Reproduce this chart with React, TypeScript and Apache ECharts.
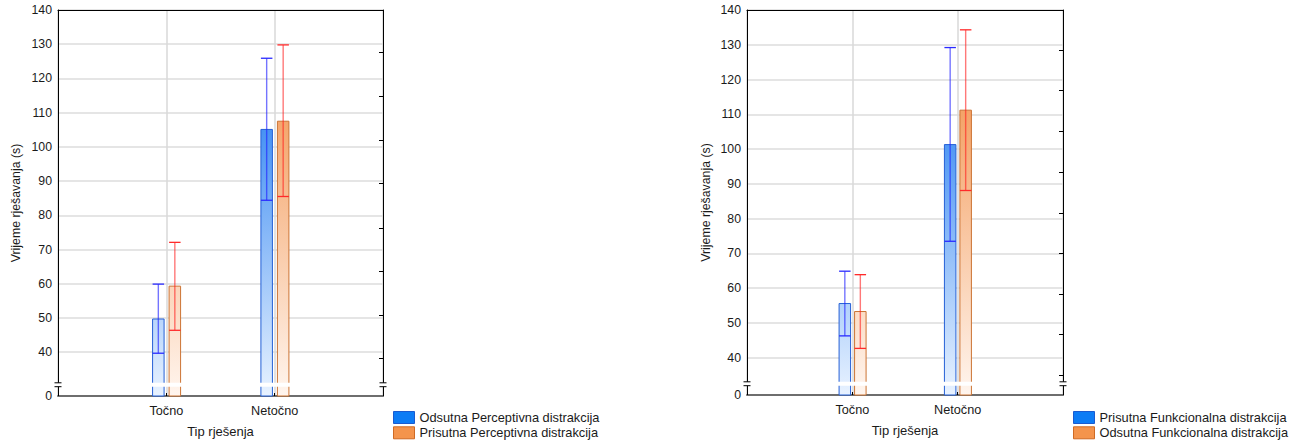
import React, { useEffect, useRef } from 'react';
import * as echarts from 'echarts';

const FONT = '"Liberation Sans", Arial, sans-serif';

const categories = ['', 'Točno', 'Netočno', ''];
const yTickValues = [40, 50, 60, 70, 80, 90, 100, 110, 120, 130, 140];
const xAxisTitle = 'Tip rješenja';
const yAxisTitle = 'Vrijeme rješavanja (s)';

// Left panel (Perceptivna distrakcija)
const leftNames = ['Odsutna Perceptivna distrakcija', 'Prisutna Perceptivna distrakcija'];
const leftMeanA = [49.7, 105.1];
const leftLowA = [39.7, 84.4];
const leftHighA = [59.9, 125.9];
const leftMeanB = [59.3, 107.5];
const leftLowB = [46.4, 85.5];
const leftHighB = [72.1, 129.8];
const leftAxisBottom = 27.2; // value sitting at the broken-axis "0"
const leftRightTicks = [127.7, 114.9, 102.0, 89.5, 76.3, 63.7, 50.9, 38.1];

// Right panel (Funkcionalna distrakcija)
const rightNames = ['Prisutna Funkcionalna distrakcija', 'Odsutna Funkcionalna distrakcija'];
const rightMeanA = [55.6, 101.3];
const rightLowA = [46.3, 73.5];
const rightHighA = [64.9, 129.2];
const rightMeanB = [53.3, 111.2];
const rightLowB = [42.7, 88.1];
const rightHighB = [63.9, 134.3];
const rightAxisBottom = 29.3;
const rightRightTicks = [128.3, 116.9, 105.0, 93.4, 81.7, 70.0, 58.2, 46.7, 34.9];

const BLUE = {
  top: '#0068ee',
  bottom: '#e8f2ff',
  border: '#2560d6',
  whisker: 'rgba(30,30,255,0.62)',
  cap: '#2a2aff',
  legend: '#0d7cf5',
  legendBorder: '#1a5bd0',
};
const ORANGE = {
  top: '#f08638',
  bottom: '#fff5ee',
  border: '#cc7434',
  whisker: 'rgba(255,30,30,0.6)',
  cap: '#ff2a2a',
  legend: '#f4944c',
  legendBorder: '#cf6a24',
};

const BAR_W = 11.5;

const rows = (mean: number[], low: number[], high: number[]) =>
  mean.map((m, i) => [i + 1, m, low[i], high[i]]);

const makeBarRender = (offset: number, pal: any) => (params: any, api: any) => {
  const cs = params.coordSys;
  const bottom = cs.y + cs.height;
  const cat = api.value(0);
  const p = api.coord([cat, api.value(1)]);
  const yLow = api.coord([cat, api.value(2)])[1];
  const yHigh = api.coord([cat, api.value(3)])[1];
  const xc = p[0] + offset;
  const x0 = xc - BAR_W / 2;
  return {
    type: 'group',
    children: [
      {
        type: 'rect',
        shape: { x: x0, y: p[1], width: BAR_W, height: bottom - p[1] },
        style: {
          fill: new echarts.graphic.LinearGradient(
            0, cs.y, 0, bottom,
            [
              { offset: 0, color: pal.top },
              { offset: 1, color: pal.bottom },
            ],
            true
          ),
          stroke: pal.border,
          lineWidth: 1,
        },
      },
      { type: 'line', shape: { x1: xc, y1: yHigh, x2: xc, y2: yLow }, style: { stroke: pal.whisker, lineWidth: 1.4 } },
      { type: 'line', shape: { x1: x0, y1: yHigh, x2: x0 + BAR_W, y2: yHigh }, style: { stroke: pal.cap, lineWidth: 1.3 } },
      { type: 'line', shape: { x1: x0, y1: yLow, x2: x0 + BAR_W, y2: yLow }, style: { stroke: pal.cap, lineWidth: 1.3 } },
    ],
  };
};

const breakRender = (params: any) => {
  const cs = params.coordSys;
  const bottom = cs.y + cs.height;
  const yA = bottom - 13.2;
  const yB = bottom - 9.3;
  const L = cs.x;
  const R = cs.x + cs.width;
  const dash = (x: number, y: number) => ({
    type: 'line',
    shape: { x1: x - 3.5, y1: y, x2: x + 3.5, y2: y },
    style: { stroke: '#000', lineWidth: 1 },
  });
  return {
    type: 'group',
    children: [
      { type: 'rect', shape: { x: L - 2, y: yA, width: R - L + 4, height: yB - yA }, style: { fill: '#fff' } },
      dash(L, yA), dash(L, yB), dash(R, yA), dash(R, yB),
    ],
  };
};

const xAxesFor = (grid: number) => [
  {
    gridIndex: grid,
    type: 'category',
    data: categories,
    boundaryGap: false,
    axisLine: { lineStyle: { color: '#6e6e6e', width: 2 } },
    axisTick: { inside: true, length: 3, lineStyle: { color: '#000' } },
    axisLabel: { margin: 8, fontSize: 12.7, color: '#1a1a1a', fontFamily: FONT },
    splitLine: { show: true, lineStyle: { color: '#d9d9d9', width: 1.5 } },
    name: xAxisTitle,
    nameLocation: 'middle',
    nameGap: 29,
    nameTextStyle: { fontSize: 13, color: '#1a1a1a', fontFamily: FONT },
  },
  {
    gridIndex: grid,
    type: 'category',
    data: categories,
    boundaryGap: false,
    position: 'top',
    axisLine: { lineStyle: { color: '#000', width: 1 } },
    axisTick: { show: false },
    axisLabel: { show: false },
    splitLine: { show: false },
  },
];

const yAxesFor = (grid: number, bottomVal: number, rightTicks: number[], nameGap: number) => [
  {
    gridIndex: grid,
    type: 'value',
    min: bottomVal,
    max: 140,
    axisLine: { show: true, lineStyle: { color: '#000', width: 1 } },
    axisTick: { show: false, customValues: yTickValues },
    axisLabel: {
      customValues: [bottomVal, ...yTickValues],
      formatter: (v: number) => (Math.abs(v - bottomVal) < 0.01 ? '0' : String(v)),
      margin: 6,
      fontSize: 12.3,
      color: '#1a1a1a',
      fontFamily: FONT,
    },
    splitLine: { show: true, lineStyle: { color: '#dcdcdc', width: 1.5 } },
    name: yAxisTitle,
    nameLocation: 'middle',
    nameGap,
    nameTextStyle: { fontSize: 12.3, color: '#1a1a1a', fontFamily: FONT },
  },
  {
    gridIndex: grid,
    type: 'value',
    position: 'right',
    min: bottomVal,
    max: 140,
    axisLine: { show: true, lineStyle: { color: '#000', width: 1 } },
    axisTick: { show: true, inside: true, length: 4, customValues: rightTicks, lineStyle: { color: '#000' } },
    axisLabel: { show: false },
    splitLine: { show: false },
  },
];

const legendFor = (left: number, names: string[]) => ({
  left,
  top: 411,
  orient: 'vertical',
  padding: 0,
  itemWidth: 21,
  itemHeight: 12,
  itemGap: 2.3,
  icon: 'rect',
  selectedMode: false,
  textStyle: { fontSize: 12.8, color: '#1a1a1a', fontFamily: FONT, lineHeight: 12 },
  data: [
    { name: names[0], itemStyle: { color: BLUE.legend, borderColor: BLUE.legendBorder, borderWidth: 1 } },
    { name: names[1], itemStyle: { color: ORANGE.legend, borderColor: ORANGE.legendBorder, borderWidth: 1 } },
  ],
});

const barSeries = (name: string, xi: number, yi: number, data: number[][], offset: number, pal: any) => ({
  type: 'custom',
  name,
  xAxisIndex: xi,
  yAxisIndex: yi,
  coordinateSystem: 'cartesian2d',
  itemStyle: { color: pal.legend, borderColor: pal.legendBorder },
  renderItem: makeBarRender(offset, pal),
  data,
  z: 3,
});

const breakSeries = (xi: number, yi: number) => ({
  type: 'custom',
  name: '__break' + xi,
  xAxisIndex: xi,
  yAxisIndex: yi,
  coordinateSystem: 'cartesian2d',
  silent: true,
  renderItem: breakRender,
  data: [[0, 140]],
  z: 10,
});

export default function App() {
  const ref = useRef<HTMLDivElement>(null);
  useEffect(() => {
    if (!ref.current) return;
    const chart = echarts.init(ref.current, undefined, { renderer: 'svg' });
    chart.setOption({
      animation: false,
      backgroundColor: '#ffffff',
      textStyle: { fontFamily: FONT },
      grid: [
        { left: 58, top: 10, width: 325, height: 386 },
        { left: 747, top: 10, width: 316, height: 385 },
      ],
      xAxis: [...xAxesFor(0), ...xAxesFor(1)],
      yAxis: [
        ...yAxesFor(0, leftAxisBottom, leftRightTicks, 36),
        ...yAxesFor(1, rightAxisBottom, rightRightTicks, 35),
      ],
      legend: [legendFor(393, leftNames), legendFor(1073, rightNames)],
      series: [
        barSeries(leftNames[0], 0, 0, rows(leftMeanA, leftLowA, leftHighA), -8, BLUE),
        barSeries(leftNames[1], 0, 0, rows(leftMeanB, leftLowB, leftHighB), 8.5, ORANGE),
        barSeries(rightNames[0], 2, 2, rows(rightMeanA, rightLowA, rightHighA), -7.5, BLUE),
        barSeries(rightNames[1], 2, 2, rows(rightMeanB, rightLowB, rightHighB), 8, ORANGE),
        breakSeries(0, 0),
        breakSeries(2, 2),
      ],
    });
    return () => chart.dispose();
  }, []);
  return (
    <div
      ref={ref}
      style={{ position: 'absolute', left: 0, top: 0, width: 1302, height: 444, background: '#fff' }}
    />
  );
}
